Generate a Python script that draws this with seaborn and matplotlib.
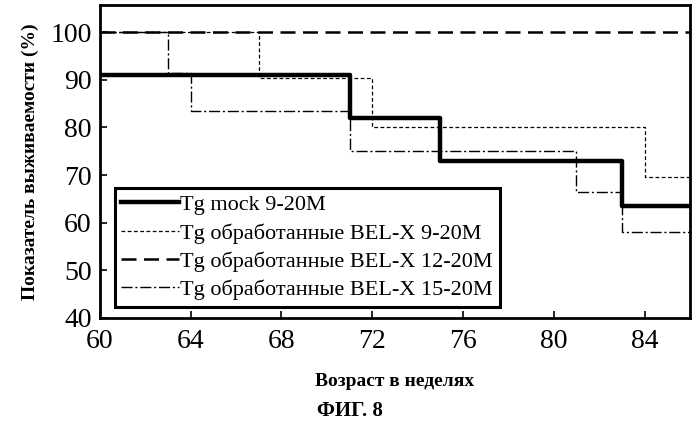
import matplotlib
matplotlib.use("Agg")
import matplotlib.pyplot as plt
import pandas as pd
import seaborn as sns

# Данные кривых выживаемости (ступенчатые)
mock_x = [60, 71, 75, 83, 86]
mock_y = [91, 82, 73, 63.5, 63.5]
belx9_x = [60, 67, 72, 84, 86]
belx9_y = [100, 90.5, 80, 69.5, 69.5]
belx12_x = [60, 86]
belx12_y = [100, 100]
belx15_x = [60, 63, 64, 71, 81, 83, 86]
belx15_y = [100, 91.5, 83.5, 75, 66.5, 58, 58]

labels = ["Tg mock 9-20M", "Tg обработанные BEL-X 9-20M",
          "Tg обработанные BEL-X 12-20M", "Tg обработанные BEL-X 15-20M"]
xs = [mock_x, belx9_x, belx12_x, belx15_x]
ys = [mock_y, belx9_y, belx12_y, belx15_y]

rows = []
for lab, xx, yy in zip(labels, xs, ys):
    for a, b in zip(xx, yy):
        rows.append({"x": a, "y": b, "series": lab})
df = pd.DataFrame(rows)

plt.rcParams["font.family"] = "Liberation Serif"
fig = plt.figure(figsize=(6.99, 4.29), dpi=100)
ax = fig.add_axes([0.143, 0.259, 0.844, 0.729])

styles = {
    labels[0]: dict(lw=3.2, ls="-"),
    labels[1]: dict(lw=0.9, ls=(0, (3, 2))),
    labels[2]: dict(lw=1.8, ls=(0, (6, 3))),
    labels[3]: dict(lw=1.0, ls=(0, (8, 2, 1.5, 2))),
}
for lab in labels:
    sub = df[df["series"] == lab]
    sns.lineplot(data=sub, x="x", y="y", ax=ax, color="black",
                 drawstyle="steps-post", label=lab, **styles[lab])

ax.set_xlim(60, 86)
ax.set_ylim(40, 105.7)
ax.set_xticks(range(60, 86, 4))
ax.set_yticks(range(40, 101, 10))
ax.tick_params(labelsize=20, direction="in", length=5, width=1.2)
ax.tick_params(axis="x", pad=8)
ax.tick_params(axis="y", pad=6)
for s in ax.spines.values():
    s.set_linewidth(2)
ax.set_xlabel("Возраст в неделях", fontsize=14, fontweight="bold", labelpad=14)
ax.set_ylabel("Показатель выживаемости (%)", fontsize=14, fontweight="bold", labelpad=8)

leg = ax.legend(loc="lower left", bbox_to_anchor=(0.025, 0.035), fontsize=16,
                handlelength=2.6, handletextpad=0.05, labelspacing=0.35,
                fancybox=False, borderpad=0.3, borderaxespad=0)
leg.get_frame().set_edgecolor("black")
leg.get_frame().set_linewidth(2.2)
leg.get_frame().set_alpha(1)

fig.text(0.5, 0.03, "ФИГ. 8", ha="center", fontsize=15, fontweight="bold")
fig.savefig("out.png", dpi=100)
